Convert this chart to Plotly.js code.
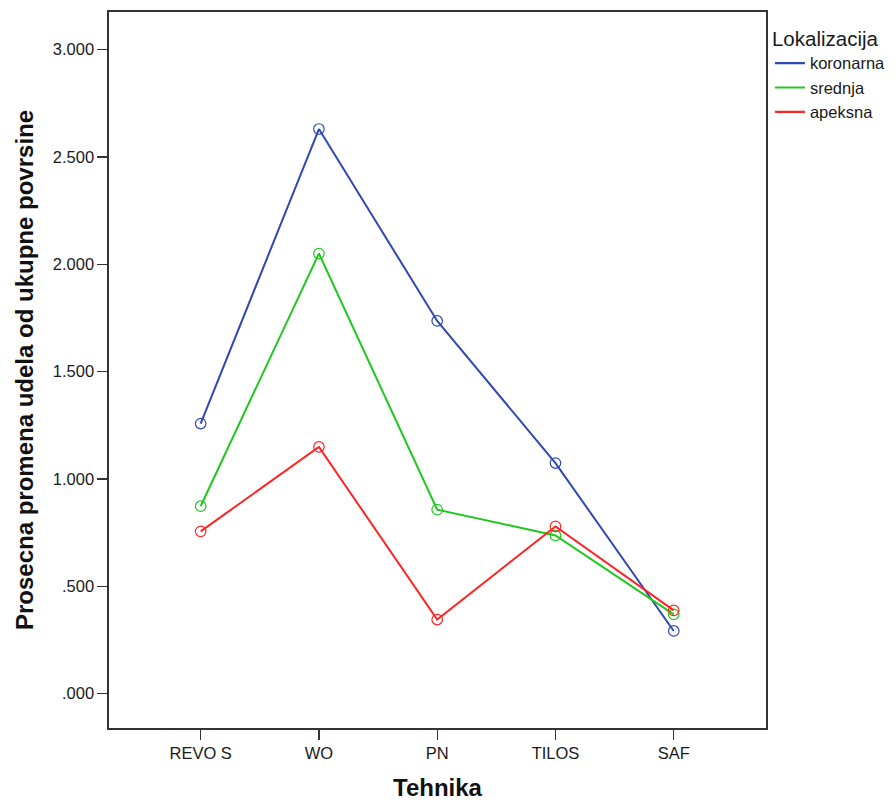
<!DOCTYPE html>
<html>
<head>
<meta charset="utf-8">
<script src="https://cdn.plot.ly/plotly-3.0.1.min.js"></script>
<style>
html,body{margin:0;padding:0;background:#fff;}
#chart{width:895px;height:804px;}
</style>
</head>
<body>
<div id="chart"></div>
<script>
var categories = ['REVO S', 'WO', 'PN', 'TILOS', 'SAF'];
var seriesNames = ['koronarna', 'srednja', 'apeksna'];
var koronarna = [1.258, 2.630, 1.736, 1.074, 0.292];
var srednja = [0.873, 2.050, 0.857, 0.737, 0.369];
var apeksna = [0.756, 1.149, 0.345, 0.779, 0.388];
var yTickVals = [0, 0.5, 1, 1.5, 2, 2.5, 3];
var yTickText = ['.000', '.500', '1.000', '1.500', '2.000', '2.500', '3.000'];
var colors = ['#2f48b4', '#1ec81e', '#ff2424'];

var seriesData = [koronarna, srednja, apeksna];
var traces = [];
seriesData.forEach(function (vals, i) {
  traces.push({
    type: 'scatter',
    mode: 'lines+markers',
    x: categories,
    y: vals,
    name: seriesNames[i],
    showlegend: false,
    line: {color: colors[i], width: 2},
    marker: {symbol: 'circle-open', size: 10.5, color: colors[i], line: {width: 1.2, color: colors[i]}}
  });
});
// legend entries: line only, like the reference
seriesData.forEach(function (vals, i) {
  traces.push({
    type: 'scatter',
    mode: 'lines',
    x: [null],
    y: [null],
    name: seriesNames[i],
    showlegend: true,
    line: {color: colors[i], width: 2.2}
  });
});

var layout = {
  width: 895,
  height: 804,
  margin: {l: 109, r: 129, t: 12, b: 76, autoexpand: false},
  paper_bgcolor: '#ffffff',
  plot_bgcolor: '#ffffff',
  font: {family: 'Liberation Sans, Arial, sans-serif', color: '#1a1a1a', size: 12},
  showlegend: true,
  legend: {
    x: 1.006, xanchor: 'left', y: 0.99, yanchor: 'top',
    font: {size: 16.5, color: '#1a1a1a'},
    title: {text: 'Lokalizacija', font: {size: 20.5, color: '#1a1a1a'}},
    tracegroupgap: 0,
    itemwidth: 30,
    bgcolor: 'rgba(0,0,0,0)'
  },
  xaxis: {
    type: 'category',
    range: [-0.775, 4.78],
    showgrid: false,
    zeroline: false,
    showline: true,
    mirror: true,
    linecolor: '#333333',
    linewidth: 1.6,
    ticks: 'outside',
    ticklen: 10,
    tickwidth: 1.3,
    tickcolor: '#333333',
    tickfont: {size: 16.5, color: '#1a1a1a'},
    title: {text: 'Tehnika', font: {size: 24, color: '#111111', family: 'Liberation Sans, Arial, sans-serif', weight: 'bold'}, standoff: 18}
  },
  yaxis: {
    range: [-0.160, 3.175],
    showgrid: false,
    zeroline: false,
    showline: true,
    mirror: true,
    linecolor: '#333333',
    linewidth: 1.6,
    ticks: 'outside',
    ticklen: 10,
    tickwidth: 1.3,
    tickcolor: '#333333',
    tickvals: yTickVals,
    ticktext: yTickText,
    tickfont: {size: 16.5, color: '#1a1a1a'},
    title: {text: 'Prosecna promena udela od ukupne povrsine', font: {size: 24, color: '#111111', family: 'Liberation Sans, Arial, sans-serif', weight: 'bold'}, standoff: 12}
  }
};

Plotly.newPlot('chart', traces, layout, {displayModeBar: false, staticPlot: true});
</script>
</body>
</html>
